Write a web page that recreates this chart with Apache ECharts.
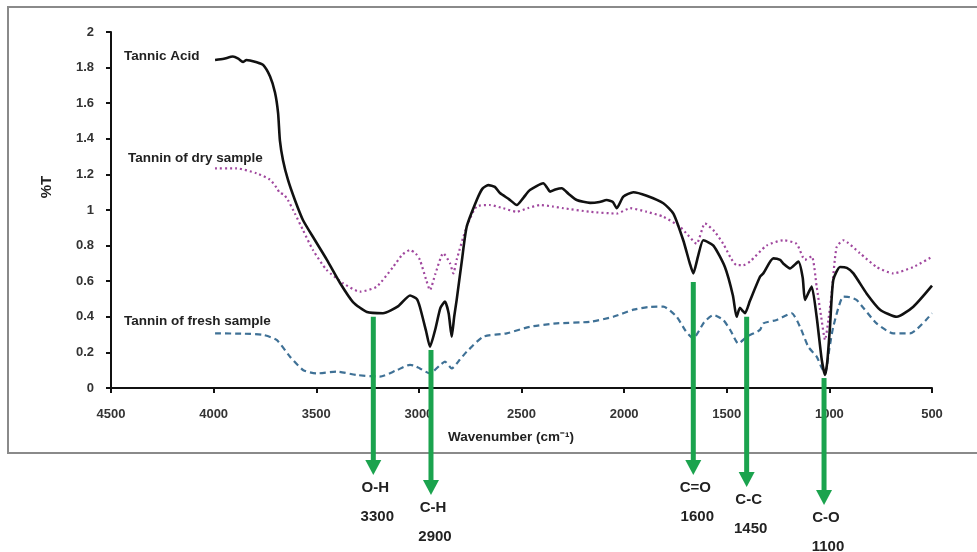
<!DOCTYPE html>
<html>
<head>
<meta charset="utf-8">
<script src="https://cdn.jsdelivr.net/npm/echarts@6/dist/echarts.min.js"></script>
<style>
html,body{margin:0;padding:0;background:#fff;}
#chart{width:977px;height:552px;}
</style>
</head>
<body>
<div id="chart"></div>
<script>
// ---- Data ----
var taWave = [3993,3950,3906,3880,3857,3840,3823,3790,3759,3725,3701,3686,3677,3662,3638,3604,3565,3506,3448,3384,3321,3253,3175,3100,3043,3010,2995,2965,2946,2920,2895,2873,2855,2840,2828,2816,2790,2767,2718,2690,2662,2630,2605,2560,2523,2490,2459,2394,2375,2361,2335,2304,2270,2231,2166,2120,2085,2055,2036,2004,1955,1890,1809,1760,1712,1680,1663,1640,1614,1565,1509,1470,1452,1436,1420,1411,1387,1338,1322,1273,1240,1225,1192,1151,1130,1119,1100,1086,1062,1037,1021,1010,997,981,948,915,883,818,753,672,591,500];
var taT = [1.843,1.85,1.862,1.85,1.832,1.843,1.84,1.83,1.815,1.75,1.66,1.545,1.39,1.28,1.17,1.056,0.944,0.83,0.72,0.59,0.483,0.427,0.42,0.46,0.52,0.50,0.455,0.32,0.232,0.33,0.45,0.485,0.42,0.288,0.40,0.494,0.72,0.906,1.056,1.12,1.14,1.13,1.095,1.06,1.028,1.07,1.112,1.15,1.125,1.103,1.115,1.122,1.09,1.056,1.04,1.045,1.056,1.045,1.01,1.075,1.1,1.08,1.038,0.98,0.83,0.70,0.644,0.74,0.83,0.80,0.68,0.52,0.40,0.45,0.43,0.42,0.49,0.625,0.644,0.728,0.72,0.70,0.672,0.71,0.62,0.494,0.54,0.57,0.40,0.157,0.073,0.15,0.344,0.607,0.68,0.675,0.644,0.53,0.44,0.40,0.457,0.575];

var dryWave = [3993,3888,3790,3725,3690,3677,3660,3638,3604,3565,3516,3449,3368,3287,3206,3125,3080,3043,3015,2995,2965,2946,2920,2881,2848,2832,2816,2767,2718,2654,2589,2523,2470,2410,2350,2296,2166,2036,1971,1890,1809,1728,1690,1647,1606,1560,1517,1480,1452,1420,1387,1306,1225,1160,1119,1086,1062,1040,1021,1005,989,965,932,851,770,689,591,500];
var dryT = [1.234,1.234,1.206,1.17,1.12,1.094,1.09,1.056,0.98,0.888,0.775,0.663,0.588,0.541,0.569,0.681,0.75,0.775,0.755,0.72,0.61,0.55,0.64,0.757,0.70,0.644,0.72,0.906,1.02,1.028,1.01,0.99,1.01,1.028,1.02,1.01,0.99,0.98,1.01,0.99,0.962,0.906,0.86,0.81,0.925,0.88,0.81,0.73,0.69,0.69,0.71,0.80,0.83,0.81,0.72,0.74,0.57,0.40,0.27,0.38,0.53,0.79,0.83,0.757,0.68,0.644,0.68,0.737];

var freshWave = [3993,3850,3758,3693,3628,3563,3498,3400,3303,3190,3108,3043,3020,2995,2946,2900,2873,2840,2800,2767,2686,2572,2459,2329,2166,2053,1955,1880,1809,1744,1700,1663,1610,1565,1517,1480,1444,1400,1338,1322,1257,1184,1143,1103,1062,1040,1021,1000,981,932,900,867,770,689,607,500];
var freshT = [0.307,0.305,0.298,0.27,0.176,0.10,0.082,0.092,0.073,0.064,0.10,0.13,0.125,0.11,0.082,0.125,0.148,0.11,0.16,0.204,0.288,0.307,0.344,0.363,0.372,0.40,0.44,0.455,0.457,0.40,0.32,0.279,0.37,0.41,0.382,0.32,0.25,0.29,0.326,0.363,0.382,0.42,0.344,0.232,0.176,0.12,0.082,0.22,0.344,0.513,0.51,0.494,0.363,0.307,0.307,0.42];

var seriesNames = ['Tannic Acid', 'Tannin of dry sample', 'Tannin of fresh sample'];

// band annotations
var bondLabels = ['O-H', 'C-H', 'C=O', 'C-C', 'C-O'];
var bondNumbers = ['3300', '2900', '1600', '1450', '1100'];
var bondWave = [3222, 2941, 1663, 1403, 1026];
var bondFrom = [0.40, 0.213, 0.596, 0.40, 0.056];
var bondTo = [-0.489, -0.601, -0.489, -0.556, -0.657];

// ---- build ----
function pairs(w, v){ var o=[]; for (var i=0;i<w.length;i++) o.push([w[i], v[i]]); return o; }

var FONT = '"Liberation Sans", Arial, sans-serif';
var chart = echarts.init(document.getElementById('chart'), null, {renderer:'canvas'});

var option = {
  backgroundColor: '#ffffff',
  animation: false,
  grid: {left: 111, right: 45, top: 32, bottom: 164, containLabel: false},
  xAxis: {
    type: 'value', inverse: true, min: 500, max: 4500, interval: 500,
    axisLine: {show: true, onZero: false, lineStyle: {color: '#111', width: 2}},
    axisTick: {show: true, length: 5, lineStyle: {color: '#111', width: 2}},
    axisLabel: {margin: 20, color: '#333', fontWeight: 'bold', fontSize: 13, fontFamily: FONT,
                formatter: function (v) { return String(v); }},
    splitLine: {show: false}
  },
  yAxis: {
    type: 'value', min: 0, max: 2, interval: 0.2,
    axisLine: {show: true, lineStyle: {color: '#111', width: 2}},
    axisTick: {show: true, length: 5, lineStyle: {color: '#111', width: 2}},
    axisLabel: {margin: 17, color: '#333', fontWeight: 'bold', fontSize: 13, fontFamily: FONT},
    splitLine: {show: false}
  },
  series: [
    {name: seriesNames[0], type: 'line', data: pairs(taWave, taT), showSymbol: false, smooth: 0.2,
     lineStyle: {color: '#111111', width: 2.6}, z: 5},
    {name: seriesNames[1], type: 'line', data: pairs(dryWave, dryT), showSymbol: false, smooth: 0.2,
     lineStyle: {color: '#a0479e', width: 2.2, type: [2, 3]}, z: 4},
    {name: seriesNames[2], type: 'line', data: pairs(freshWave, freshT), showSymbol: false, smooth: 0.2,
     lineStyle: {color: '#3f7196', width: 2.2, type: [6, 4]}, z: 3}
  ]
};
chart.setOption(option);

var g = [];
// outer frame
g.push({type: 'rect', shape: {x: 8, y: 7, width: 1000, height: 446}, z: -1,
        style: {fill: null, stroke: '#8a8a8a', lineWidth: 2}});
// axis names
g.push({type: 'text', x: 47, y: 187, rotation: Math.PI / 2, z: 10,
        style: {text: '%T', fill: '#222', font: 'bold 15px ' + FONT, textAlign: 'center', textVerticalAlign: 'middle'}});
g.push({type: 'text', x: 511, y: 437, z: 10,
        style: {text: 'Wavenumber (cm\u207B\u00B9)', fill: '#222', font: 'bold 13.5px ' + FONT, textAlign: 'center', textVerticalAlign: 'middle'}});
// series labels
var lblPos = [[124, 56], [128, 158], [124, 321]];
for (var s = 0; s < seriesNames.length; s++) {
  g.push({type: 'text', x: lblPos[s][0], y: lblPos[s][1], z: 10,
          style: {text: seriesNames[s], fill: '#222', font: 'bold 13.5px ' + FONT, textAlign: 'left', textVerticalAlign: 'middle'}});
}
// arrows
var GREEN = '#1ba34e';
for (var i = 0; i < bondWave.length; i++) {
  var p0 = chart.convertToPixel({gridIndex: 0}, [bondWave[i], bondFrom[i]]);
  var p1 = chart.convertToPixel({gridIndex: 0}, [bondWave[i], bondTo[i]]);
  var x = p0[0], y0 = p0[1], y1 = p1[1];
  g.push({type: 'line', z: 20, shape: {x1: x, y1: y0, x2: x, y2: y1 - 12},
          style: {stroke: GREEN, lineWidth: 5}});
  g.push({type: 'polygon', z: 20, shape: {points: [[x - 8, y1 - 15], [x + 8, y1 - 15], [x, y1]]},
          style: {fill: GREEN}});
  g.push({type: 'text', x: x + 2, y: y1 + 13, z: 20,
          style: {text: bondLabels[i], fill: '#222', font: 'bold 15px ' + FONT, textAlign: 'center', textVerticalAlign: 'middle'}});
  g.push({type: 'text', x: x + 4, y: y1 + 42, z: 20,
          style: {text: bondNumbers[i], fill: '#222', font: 'bold 15px ' + FONT, textAlign: 'center', textVerticalAlign: 'middle'}});
}
chart.setOption({graphic: g});
</script>
</body>
</html>
